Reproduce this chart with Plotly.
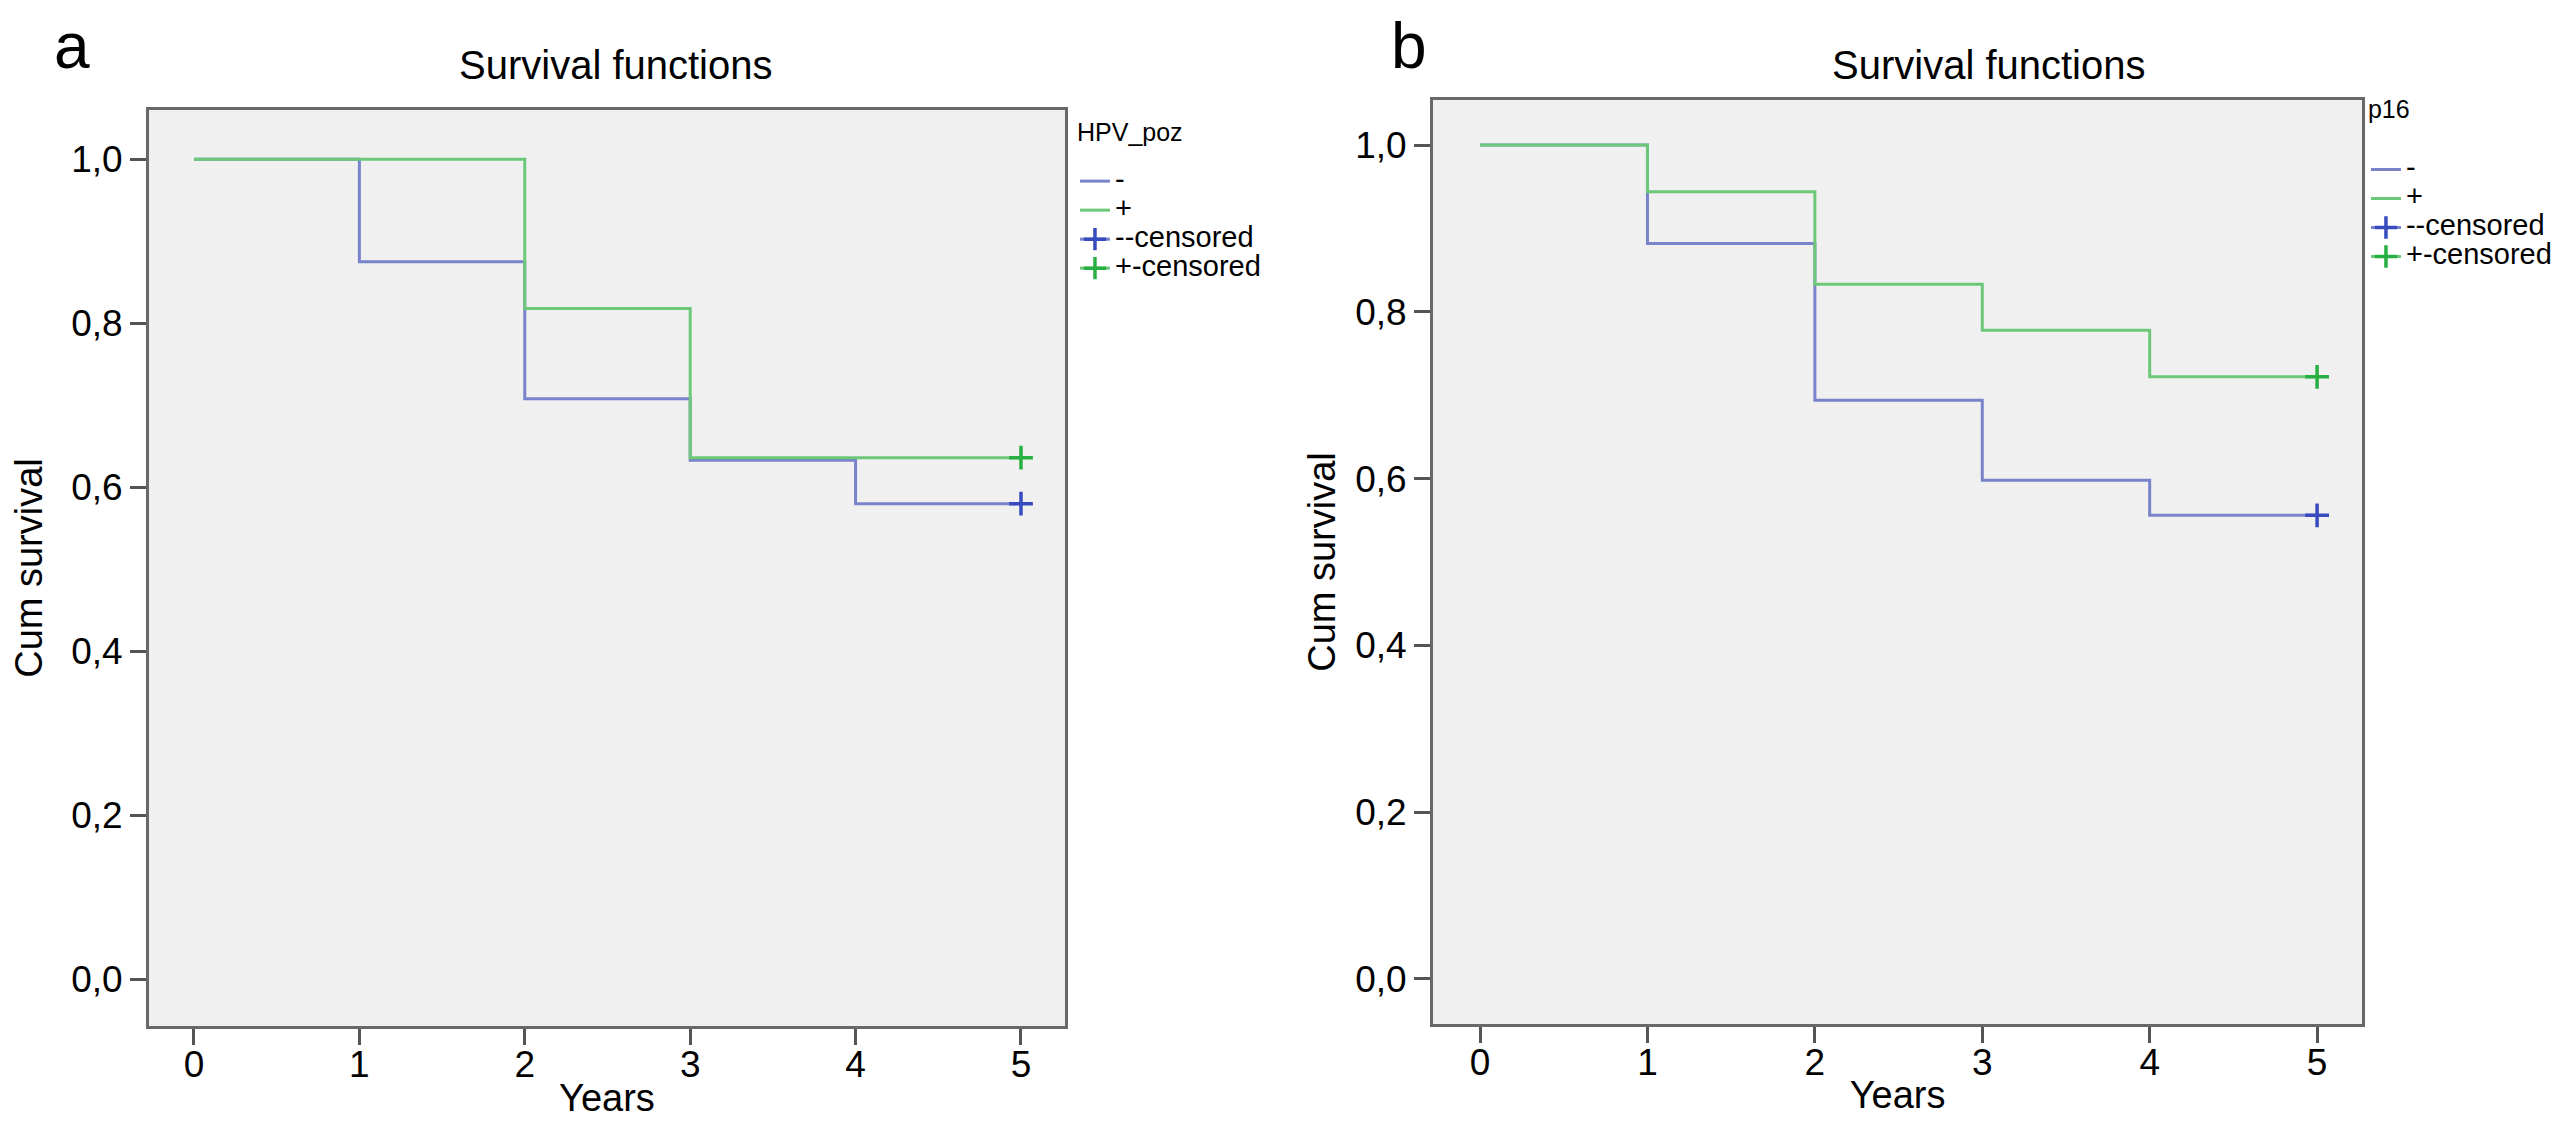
import plotly.graph_objects as go

# Kaplan-Meier step values
years = [0, 1, 2, 3, 4, 5]
hpv_neg = [1.0, 0.875, 0.708, 0.633, 0.580, 0.580]
hpv_pos = [1.0, 1.0, 0.818, 0.636, 0.636, 0.636]
p16_neg = [1.0, 0.882, 0.694, 0.598, 0.556, 0.556]
p16_pos = [1.0, 0.944, 0.833, 0.778, 0.722, 0.722]

# censored observations (last follow-up)
cens_year = [5]
hpv_neg_cens = [0.580]
hpv_pos_cens = [0.636]
p16_neg_cens = [0.556]
p16_pos_cens = [0.722]

legend_names = ["-", "+", "--censored", "+-censored"]

BLUE = "rgb(120,131,202)"
GREEN = "rgb(108,200,120)"
BLUE_DARK = "rgb(55,75,190)"
GREEN_DARK = "rgb(40,175,65)"
FONT = "Liberation Sans"

fig = go.Figure()


def leg(name, size=29):
    # bigger glyphs than the legend line spacing, like the SPSS legend
    return f"<span style='font-size:{size}px'>{name}</span>"


def add_panel(neg, pos, neg_c, pos_c, xa, ya, legend):
    fig.add_trace(go.Scatter(x=years, y=neg, mode="lines", line_shape="hv",
                             line=dict(color=BLUE, width=3), name=leg(legend_names[0]),
                             xaxis=xa, yaxis=ya, legend=legend))
    fig.add_trace(go.Scatter(x=years, y=pos, mode="lines", line_shape="hv",
                             line=dict(color=GREEN, width=3), name=leg(legend_names[1]),
                             xaxis=xa, yaxis=ya, legend=legend))
    fig.add_trace(go.Scatter(x=cens_year, y=neg_c, mode="lines+markers",
                             line=dict(color=BLUE, width=3),
                             marker=dict(symbol="cross-thin", size=17,
                                         line=dict(color=BLUE_DARK, width=3.5)),
                             name=leg(legend_names[2]), xaxis=xa, yaxis=ya, legend=legend))
    fig.add_trace(go.Scatter(x=cens_year, y=pos_c, mode="lines+markers",
                             line=dict(color=GREEN, width=3),
                             marker=dict(symbol="cross-thin", size=17,
                                         line=dict(color=GREEN_DARK, width=3.5)),
                             name=leg(legend_names[3]), xaxis=xa, yaxis=ya, legend=legend))


add_panel(hpv_neg, hpv_pos, hpv_neg_cens, hpv_pos_cens, "x", "y", "legend")
add_panel(p16_neg, p16_pos, p16_neg_cens, p16_pos_cens, "x2", "y2", "legend2")

axis_common = dict(showline=True, mirror=True, linecolor="#686868", linewidth=3,
                   showgrid=False, zeroline=False, ticks="outside", ticklen=16,
                   tickwidth=3, tickcolor="#555555",
                   tickfont=dict(family=FONT, size=37, color="black"),
                   title_font=dict(family=FONT, size=38, color="black"))
ytick = [0, 0.2, 0.4, 0.6, 0.8, 1.0]

# empty second title line leaves the gap between legend title and entries
gap = "<br>\u00a0"

fig.update_layout(
    width=2563, height=1126,
    margin=dict(l=0, r=0, t=0, b=0),
    paper_bgcolor="white", plot_bgcolor="#f0f0f0",
    separators=", ",
    font=dict(family=FONT, color="black"),
    xaxis=dict(domain=[0.0550, 0.4124], range=[-0.272, 5.266], anchor="y",
               tickvals=years, ticklabelstandoff=-12,
               title=dict(text="Years", standoff=0), **axis_common),
    yaxis=dict(domain=[0.0959, 0.9094], range=[-0.057, 1.060], anchor="x",
               tickvals=ytick, tickformat=".1f",
               title=dict(text="Cum survival", standoff=18), **axis_common),
    xaxis2=dict(domain=[0.5560, 0.9185], range=[-0.281, 5.269], anchor="y2",
                tickvals=years, ticklabelstandoff=-12,
                title=dict(text="Years", standoff=0), **axis_common),
    yaxis2=dict(domain=[0.0977, 0.9183], range=[-0.054, 1.054], anchor="x2",
                tickvals=ytick, tickformat=".1f",
                title=dict(text="Cum survival", standoff=8), **axis_common),
    legend=dict(x=0.4163, y=0.9005, xanchor="left", yanchor="top",
                title=dict(text=leg("HPV_poz", 25) + gap, font=dict(family=FONT, size=16)),
                font=dict(family=FONT, size=20), bgcolor="rgba(0,0,0,0)",
                tracegroupgap=0),
    legend2=dict(x=0.920, y=0.9316, xanchor="left", yanchor="top",
                 title=dict(text="p16" + gap, font=dict(family=FONT, size=25)),
                 font=dict(family=FONT, size=20), bgcolor="rgba(0,0,0,0)",
                 tracegroupgap=0),
    annotations=[
        dict(text="Survival functions", x=0.2372, y=0.949, xref="paper", yref="paper",
             xanchor="center", yanchor="middle", showarrow=False,
             font=dict(family=FONT, size=40)),
        dict(text="Survival functions", x=0.7729, y=0.949, xref="paper", yref="paper",
             xanchor="center", yanchor="middle", showarrow=False,
             font=dict(family=FONT, size=40)),
        dict(text="a", x=0.0172, y=0.9664, xref="paper", yref="paper",
             xanchor="left", yanchor="middle", showarrow=False,
             font=dict(family=FONT, size=64)),
        dict(text="b", x=0.5388, y=0.9664, xref="paper", yref="paper",
             xanchor="left", yanchor="middle", showarrow=False,
             font=dict(family=FONT, size=64)),
    ],
)

fig.write_html("out.html")
